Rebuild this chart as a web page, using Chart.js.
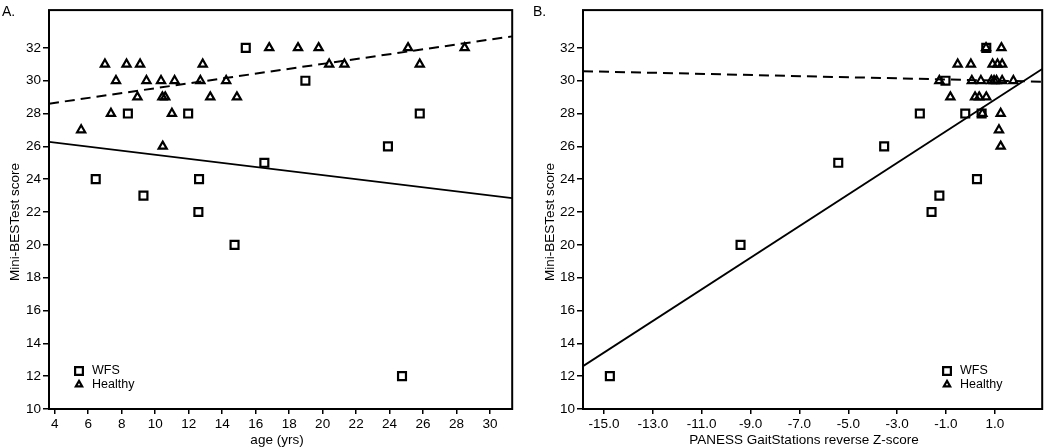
<!DOCTYPE html>
<html>
<head>
<meta charset="utf-8">
<script src="https://cdn.jsdelivr.net/npm/chart.js@4.4.1/dist/chart.umd.min.js"></script>
<style>
  body { margin: 0; background: #fff; }
  .panel { position: absolute; top: 0; height: 447px; }
  #panelA { left: 0; width: 520px; }
  #panelB { left: 530px; width: 520px; }
</style>
</head>
<body>
<div class="panel" id="panelA"><canvas id="chartA"></canvas></div>
<div class="panel" id="panelB"><canvas id="chartB"></canvas></div>
<script>
// Panel A: age (yrs) vs Mini-BESTest score
const wfsAge = [6.45, 8.37, 9.3, 11.97, 12.62, 12.58, 14.74, 15.41, 16.52, 18.97, 23.9, 24.74, 25.8];
const wfsScoreA = [24, 28, 23, 28, 24, 22, 20, 32, 25, 30, 26, 12, 28];
const healthyAge = [5.58, 7.0, 7.36, 7.66, 8.29, 8.94, 9.1, 9.48, 10.35, 10.43, 10.6, 10.45, 11.0, 11.16,
  12.7, 12.84, 13.29, 14.24, 14.88, 16.81, 18.53, 19.76, 20.39, 21.3, 25.1, 25.8, 28.48];
const healthyScoreA = [27, 31, 28, 30, 31, 29, 31, 30, 30, 29, 29, 26, 28, 30,
  30, 31, 29, 30, 29, 32, 32, 32, 31, 31, 32, 31, 32];

// fit lines, panel A (ends at the axis limits)
const fitAgeX = [3.66, 31.32];
const fitAgeWfs = [26.27, 22.85];
const fitAgeHealthy = [28.6, 32.7];

// Panel B: PANESS GaitStations reverse Z-score vs Mini-BESTest score
const wfsZ = [-14.76, -9.41, -5.41, -3.53, -2.07, -1.59, -1.27, -1.02, -0.21, 0.27, 0.46, 0.65];
const wfsScoreB = [12, 20, 25, 26, 28, 22, 23, 30, 28, 24, 28, 32];
const healthyZ = [0.64, 1.27, -0.52, 0.02, 0.91, 1.11, 1.30, -1.27, 0.06, 0.43, 0.86, 0.97, 1.07, 1.30,
  1.76, -0.82, 0.19, 0.36, 0.65, 0.49, 1.24, 1.17, 1.24];
const healthyScoreB = [32, 32, 31, 31, 31, 31, 31, 30, 30, 30, 30, 30, 30, 30,
  30, 29, 29, 29, 29, 28, 28, 27, 26];

const fitZX = [-15.86, 2.94];
const fitZWfs = [12.61, 30.71];
const fitZHealthy = [30.58, 29.94];

// tick labels
const scoreTicks = [10, 12, 14, 16, 18, 20, 22, 24, 26, 28, 30, 32];
const ageTicks = [4, 6, 8, 10, 12, 14, 16, 18, 20, 22, 24, 26, 28, 30];
const zTicks = [-15, -13, -11, -9, -7, -5, -3, -1, 1];

const FONT = '"Liberation Sans", Arial, sans-serif';
Chart.defaults.font.family = FONT;
Chart.defaults.color = '#000';

function pts(xs, ys) {
  return xs.map((x, i) => ({ x: x, y: ys[i] }));
}

// border box, panel letter, axis titles and the legend inside the plot
const framePlugin = {
  id: 'frame',
  afterDraw(chart, args, opts) {
    const ctx = chart.ctx;
    const a = chart.chartArea;
    ctx.save();
    ctx.strokeStyle = '#000';
    ctx.lineWidth = 2;
    ctx.strokeRect(a.left, a.top, a.right - a.left, a.bottom - a.top);

    ctx.fillStyle = '#000';
    ctx.textBaseline = 'middle';
    ctx.textAlign = 'left';
    ctx.font = '14px ' + FONT;
    ctx.fillText(opts.letter, opts.letterX, 12);

    ctx.font = '13.5px ' + FONT;
    ctx.textAlign = 'center';
    ctx.fillText(opts.xTitle, opts.xTitleX, 440);
    ctx.save();
    ctx.translate(opts.yTitleX, 222);
    ctx.rotate(-Math.PI / 2);
    ctx.fillText(opts.yTitle, 0, 0);
    ctx.restore();

    // legend
    ctx.font = '12.5px ' + FONT;
    ctx.textAlign = 'left';
    let y = opts.legendY;
    chart.data.datasets.forEach(ds => {
      if (!ds.label) return;
      ctx.fillStyle = 'rgba(0,0,0,0)';
      ctx.strokeStyle = '#000';
      ctx.lineWidth = 2.2;
      Chart.helpers.drawPoint(ctx, {
        pointStyle: ds.pointStyle,
        radius: ds.pointStyle === 'triangle' ? 3.6 : 5.5,
        borderWidth: 2.2
      }, opts.legendX, y);
      ctx.fillStyle = '#000';
      ctx.fillText(ds.label, opts.legendX + 13, y);
      y += 13.5;
    });
    ctx.restore();
  }
};

function makeChart(id, cfg) {
  const wfs = {
    label: 'WFS',
    data: pts(cfg.wfsX, cfg.wfsY),
    pointStyle: 'rect',
    pointRadius: 5.6,
    borderWidth: 2.2,
    borderColor: '#000',
    backgroundColor: 'rgba(0,0,0,0)',
    order: 1
  };
  const healthy = {
    label: 'Healthy',
    data: pts(cfg.healthyX, cfg.healthyY),
    pointStyle: 'triangle',
    pointRadius: 4.7,
    borderWidth: 2.2,
    borderColor: '#000',
    backgroundColor: 'rgba(0,0,0,0)',
    order: 0
  };
  const fitWfs = {
    data: pts(cfg.fitX, cfg.fitWfs),
    showLine: true,
    pointRadius: 0,
    borderColor: '#000',
    borderWidth: 1.8,
    order: 2
  };
  const fitHealthy = {
    data: pts(cfg.fitX, cfg.fitHealthy),
    showLine: true,
    pointRadius: 0,
    borderColor: '#000',
    borderWidth: 2,
    borderDash: [10, 6],
    order: 2
  };

  return new Chart(document.getElementById(id), {
    type: 'scatter',
    data: { datasets: [wfs, healthy, fitWfs, fitHealthy] },
    plugins: [framePlugin],
    options: {
      responsive: true,
      maintainAspectRatio: false,
      animation: false,
      layout: { padding: { top: 2, right: cfg.padRight, left: 0, bottom: 0 } },
      plugins: {
        legend: { display: false },
        tooltip: { enabled: false },
        frame: cfg.frame
      },
      scales: {
        x: {
          type: 'linear',
          min: cfg.fitX[0],
          max: cfg.fitX[1],
          afterBuildTicks: s => { s.ticks = cfg.xTicks.map(v => ({ value: v })); },
          afterFit: s => { s.height = 38; },
          border: { display: false },
          grid: { drawOnChartArea: false, drawTicks: true, tickLength: 5, color: '#000', lineWidth: 1.5 },
          ticks: {
            padding: 2,
            maxRotation: 0,
            autoSkip: false,
            font: { size: 13.5 },
            callback: cfg.xFormat
          }
        },
        y: {
          type: 'linear',
          min: 10,
          max: 34.3,
          afterBuildTicks: s => { s.ticks = scoreTicks.map(v => ({ value: v })); },
          afterFit: s => { s.width = cfg.yWidth; },
          border: { display: false },
          grid: { drawOnChartArea: false, drawTicks: true, tickLength: 6, color: '#000', lineWidth: 1.5 },
          ticks: { padding: 2, autoSkip: false, font: { size: 13.5 } }
        }
      }
    }
  });
}

makeChart('chartA', {
  wfsX: wfsAge, wfsY: wfsScoreA,
  healthyX: healthyAge, healthyY: healthyScoreA,
  fitX: fitAgeX, fitWfs: fitAgeWfs, fitHealthy: fitAgeHealthy,
  xTicks: ageTicks,
  xFormat: v => String(v),
  yWidth: 49,
  padRight: 4,
  frame: {
    letter: 'A.', letterX: 2,
    xTitle: 'age (yrs)', xTitleX: 277,
    yTitle: 'Mini-BESTest score', yTitleX: 15,
    legendX: 79, legendY: 371
  }
});

makeChart('chartB', {
  wfsX: wfsZ, wfsY: wfsScoreB,
  healthyX: healthyZ, healthyY: healthyScoreB,
  fitX: fitZX, fitWfs: fitZWfs, fitHealthy: fitZHealthy,
  xTicks: zTicks,
  xFormat: v => Number(v).toFixed(1),
  yWidth: 53,
  padRight: 2,
  frame: {
    letter: 'B.', letterX: 3,
    xTitle: 'PANESS GaitStations reverse Z-score', xTitleX: 274,
    yTitle: 'Mini-BESTest score', yTitleX: 20,
    legendX: 417, legendY: 371
  }
});
</script>
</body>
</html>
